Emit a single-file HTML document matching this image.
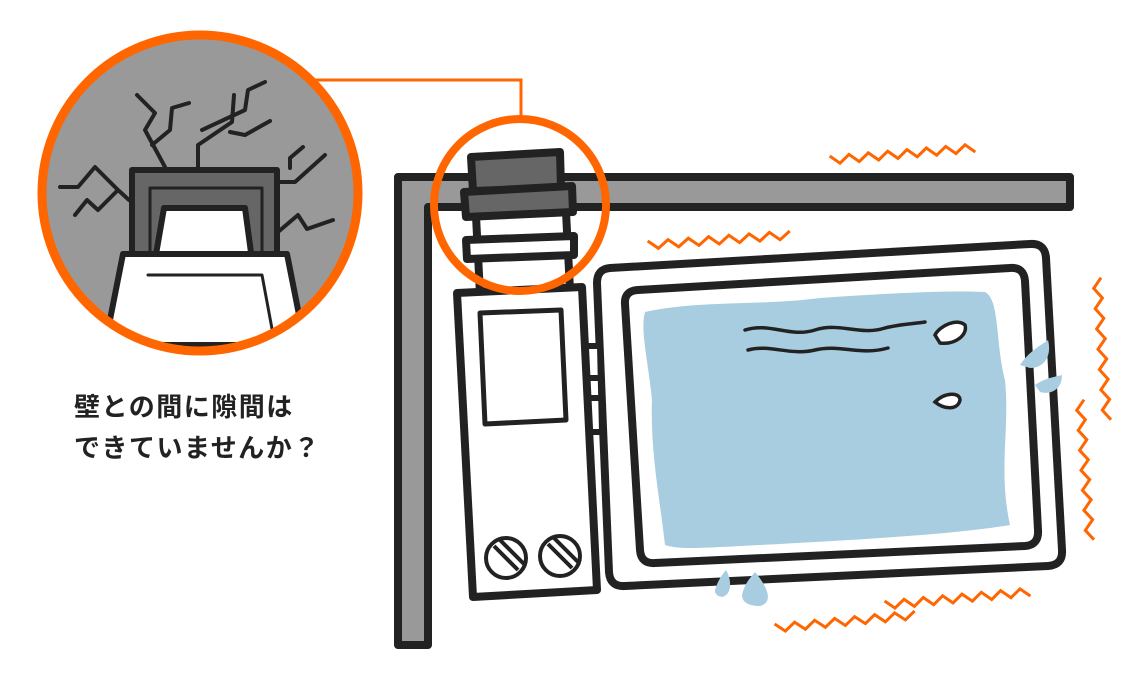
<!DOCTYPE html>
<html><head><meta charset="utf-8"><style>
html,body{margin:0;padding:0;background:#fff;width:1145px;height:681px;overflow:hidden}
.t{position:absolute;left:74px;font-family:"Liberation Sans","Noto Sans CJK JP",sans-serif;font-weight:bold;font-size:26px;color:#222;letter-spacing:1.5px}
</style></head><body>
<svg id="s" width="1145" height="681" viewBox="0 0 1145 681" style="position:absolute;left:0;top:0">
<g stroke="#222" stroke-width="8" stroke-linejoin="round" stroke-linecap="round">
<path d="M398,645 L398,177 L1070,177 L1070,207 L428,207 L428,645 Z" fill="#999"/>
<path d="M610,268 L1030,244 Q1045,243 1046,258 L1062,550 Q1063,565 1048,566 L625,586 Q610,587 609,572 L597,283 Q597,269 610,268 Z" fill="#fff"/>
<path d="M638,290 L1010,268 Q1024,267 1025,281 L1038,530 Q1039,545 1025,546 L655,563 Q641,564 640,550 L625,304 Q624,291 638,290 Z" fill="#fff"/>
</g>
<path d="M645,312 C700,300 760,306 820,298 C880,294 940,290 985,292 C1000,300 995,340 1005,380 C1010,430 998,470 1010,525 C950,535 850,540 760,545 C700,548 680,550 665,545 C660,500 650,450 652,400 C648,360 640,330 645,312 Z" fill="#a8cde0"/>
<g fill="none" stroke="#222" stroke-width="3.5" stroke-linecap="round">
<path d="M745,330 C770,322 790,338 815,330 C840,322 860,336 885,328 C900,324 912,324 925,322"/>
<path d="M748,350 C770,344 790,356 815,350 C840,344 860,356 888,348"/>
<path d="M935,335 C940,325 958,318 965,325 C968,335 955,345 940,343 Z" fill="#fff"/>
<path d="M935,402 C945,392 960,392 960,400 C958,410 945,410 935,402 Z" fill="#fff"/>
</g>
<g fill="#a8cde0">
<path d="M1020,365 C1030,350 1042,345 1048,340 C1052,355 1045,368 1030,368 Z"/>
<path d="M1035,385 C1045,378 1055,377 1062,375 C1062,390 1050,395 1040,392 Z"/>
<path d="M715,590 C718,580 722,575 726,570 C732,580 732,595 722,597 C716,596 715,593 715,590 Z"/>
<path d="M742,595 C745,583 750,578 755,572 C766,585 775,602 760,606 C748,606 742,602 742,595 Z"/>
</g>
<g stroke="#222" stroke-width="8" stroke-linejoin="round">
<path d="M582,346 L600,346 L602,432 L585,432 Z" fill="#fff" stroke-width="6"/>
<path d="M585,378 L600,378 M586,398 L601,398" stroke-width="6"/>
<path d="M476,216 L566,212 L570,290 L480,294 Z" fill="#fff"/>
<path d="M471,157 L560,152 L561,188 L473,191 Z" fill="#666"/>
<path d="M464,192 L572,186 L573,212 L466,217 Z" fill="#666"/>
<path d="M466,240 L574,236 L574,255 L467,259 Z" fill="#fff"/>
<path d="M457,293 L582,287 L597,590 L473,597 Z" fill="#fff"/>
<path d="M480,313 L561,310 L566,420 L485,424 Z" fill="#fff" stroke-width="5"/>
</g>
<g stroke="#222" fill="#fff" stroke-width="4">
<circle cx="506" cy="558" r="20"/><circle cx="560" cy="556" r="20"/>
<path d="M494,546 L518,570 M500,540 L524,564 M548,544 L572,568 M554,538 L578,562" stroke-width="4"/>
</g>
<path d="M313,80 L521,80 L521,118" fill="none" stroke="#f60" stroke-width="3"/>
<circle cx="520" cy="205" r="86" fill="none" stroke="#f60" stroke-width="8"/>
<defs><clipPath id="c"><circle cx="200" cy="193" r="158"/></clipPath></defs>
<circle cx="200" cy="193" r="158" fill="#999"/>
<g clip-path="url(#c)" stroke="#222" stroke-width="6" stroke-linejoin="round" stroke-linecap="round">
<g fill="none" stroke-width="4">
<path d="M165,167 L145,130 L155,113 L137,95 M152,145 L170,130 L172,108 L189,103"/>
<path d="M198,167 L198,145 L232,122 L234,95 M202,130 L245,110 L248,90 L265,82 M230,132 L245,135 L270,121"/>
<path d="M60,187 L78,187 L95,167 L118,190 L98,210 L87,200 L75,215 M118,190 L129,200"/>
<path d="M278,182 L295,182 L325,155 M290,168 L290,158 L303,147"/>
<path d="M278,232 L298,215 L307,229 L333,220"/>
</g>
<path d="M132,170 L277,170 L277,265 L132,265 Z" fill="#666"/>
<path d="M150,188 L262,188 L262,265 L150,265 Z" fill="#666" stroke-width="3"/>
<path d="M164,208 L245,208 L252,260 L155,260 Z" fill="#fff"/>
<path d="M123,254 L287,254 L305,345 L105,345 Z" fill="#fff"/>
<path d="M148,275 L262,275 L275,345 L135,345" fill="none" stroke-width="3"/>
</g>
<circle cx="200" cy="193" r="158" fill="none" stroke="#f60" stroke-width="9"/>
<g id="z" fill="none" stroke="#f60" stroke-width="3" stroke-linejoin="miter"></g>
</svg>
<div class="t" style="top:387px">壁との間に隙間は</div>
<div class="t" style="top:428px">できていませんか？</div>
<script>
function zz(x1,y1,x2,y2,a){var dx=x2-x1,dy=y2-y1,L=Math.hypot(dx,dy),n=Math.round(L/10),nx=-dy/L,ny=dx/L,p=[];
for(var i=0;i<=n;i++){var t=i/n,s=(i%2?a:-a);p.push((x1+dx*t+nx*s).toFixed(1)+","+(y1+dy*t+ny*s).toFixed(1));}
var e=document.createElementNS("http://www.w3.org/2000/svg","polyline");e.setAttribute("points",p.join(" "));document.getElementById("z").appendChild(e);}
zz(830,160,975,148,4);zz(648,245,790,235,4);zz(775,628,915,615,4);zz(885,605,1030,592,4);
zz(1097,278,1107,420,4);zz(1080,400,1090,540,4);
</script>
</body></html>
